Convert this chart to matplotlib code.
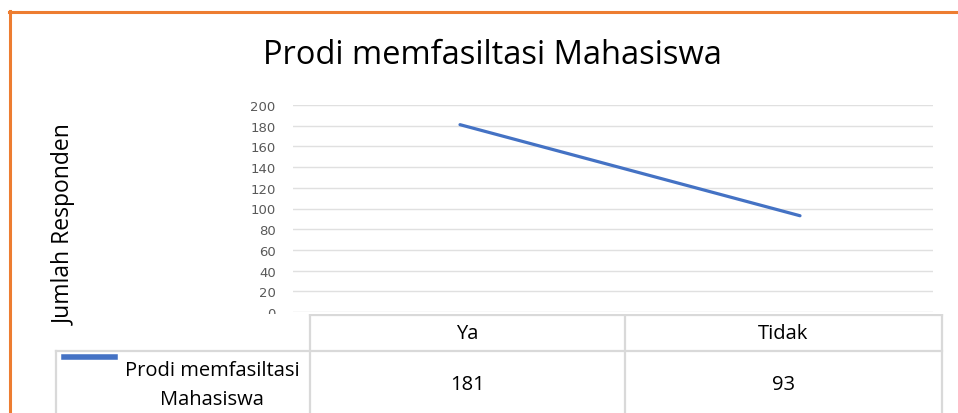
import matplotlib
matplotlib.use("Agg")
import matplotlib.pyplot as plt
from matplotlib.lines import Line2D

categories = ["Ya", "Tidak"]
values = [181, 93]
series_name = "Prodi memfasiltasi Mahasiswa"
yticks = [0, 20, 40, 60, 80, 100, 120, 140, 160, 180, 200]

W, H = 958, 414
fig = plt.figure(figsize=(W / 100, H / 100), dpi=100)
fig.patch.set_facecolor("white")

def fx(px):
    return px / W

def fy(py):
    return 1 - py / H

FONT = "Open Sans"
LINE_BLUE = "#4472C4"
GRID = "#e0e0e0"
TABLE = "#d9d9d9"

# plot area: gridlines x 293..933, y 0 at 313, 200 at 106
ax = fig.add_axes([fx(293), fy(313), fx(933) - fx(293), fy(106) - fy(313)])
xs = list(range(len(categories)))
ax.plot(xs, values, color=LINE_BLUE, lw=2.3, solid_capstyle="round")
# category 0 at px 460, 1 at px 800
scale = 340.0
ax.set_xlim(-(460 - 293) / scale, 1 + (933 - 800) / scale)
ax.set_ylim(0, 200)
ax.set_yticks(yticks)
ax.set_yticklabels([str(t) for t in yticks], fontsize=9.5, color="#595959",
                   family="DejaVu Sans")
ax.tick_params(axis="y", length=0, pad=12.5)
ax.set_xticks([])
ax.grid(axis="y", color=GRID, lw=1)
for s in ax.spines.values():
    s.set_visible(False)
ax.set_facecolor("white")

# y label
fig.text(fx(65), fy(225), "Jumlah Responden", rotation=90, ha="center",
         va="center", fontsize=16.5, family=FONT, color="black")

# title
fig.text(fx(492), fy(56), series_name, ha="center", va="center",
         fontsize=23.5, family=FONT, color="black")

# table area (covers lower part)
tax = fig.add_axes([0, 0, 1, fy(314.5)])
tax.set_xlim(0, W)
tax.set_ylim(H, 314.5)
tax.axis("off")
tax.add_patch(plt.Rectangle((0, 314.5), W, H - 314.5, facecolor="white",
                            edgecolor="none", zorder=0))

def hline(y, x0, x1):
    tax.add_line(Line2D([x0, x1], [y, y], color=TABLE, lw=1.6, zorder=2))

def vline(x, y0, y1):
    tax.add_line(Line2D([x, x], [y0, y1], color=TABLE, lw=1.6, zorder=2))

col_edges = [310, 625, 942]
hline(316, 310, 942)
hline(352, 56, 942)
for x in col_edges:
    vline(x, 316, H + 2)
vline(56, 352, H + 2)

TS = 14.5
for i, c in enumerate(categories):
    cx = (col_edges[i] + col_edges[i + 1]) / 2
    tax.text(cx, 334, c, ha="center", va="center", fontsize=TS, family=FONT,
             color="black")
    tax.text(cx, 385, str(values[i]), ha="center", va="center", fontsize=TS,
             family=FONT, color="black")

# legend key + row label
tax.add_line(Line2D([64, 115], [358, 358], color=LINE_BLUE, lw=4, zorder=3))
words = series_name.split(" ")
tax.text(212, 371, " ".join(words[:2]), ha="center", va="center", fontsize=TS,
         family=FONT, color="black")
tax.text(212, 400, words[2], ha="center", va="center", fontsize=TS,
         family=FONT, color="black")

# orange frame
ORANGE = "#ED7D31"
fig.add_artist(Line2D([fx(9), 1.0], [fy(13), fy(13)], color=ORANGE, lw=2.2,
                      zorder=20))
fig.add_artist(Line2D([fx(9.5), fx(9.5)], [fy(12), 0], color=ORANGE, lw=2.2,
                      zorder=20))

fig.savefig("out.png", dpi=100, facecolor="white")
